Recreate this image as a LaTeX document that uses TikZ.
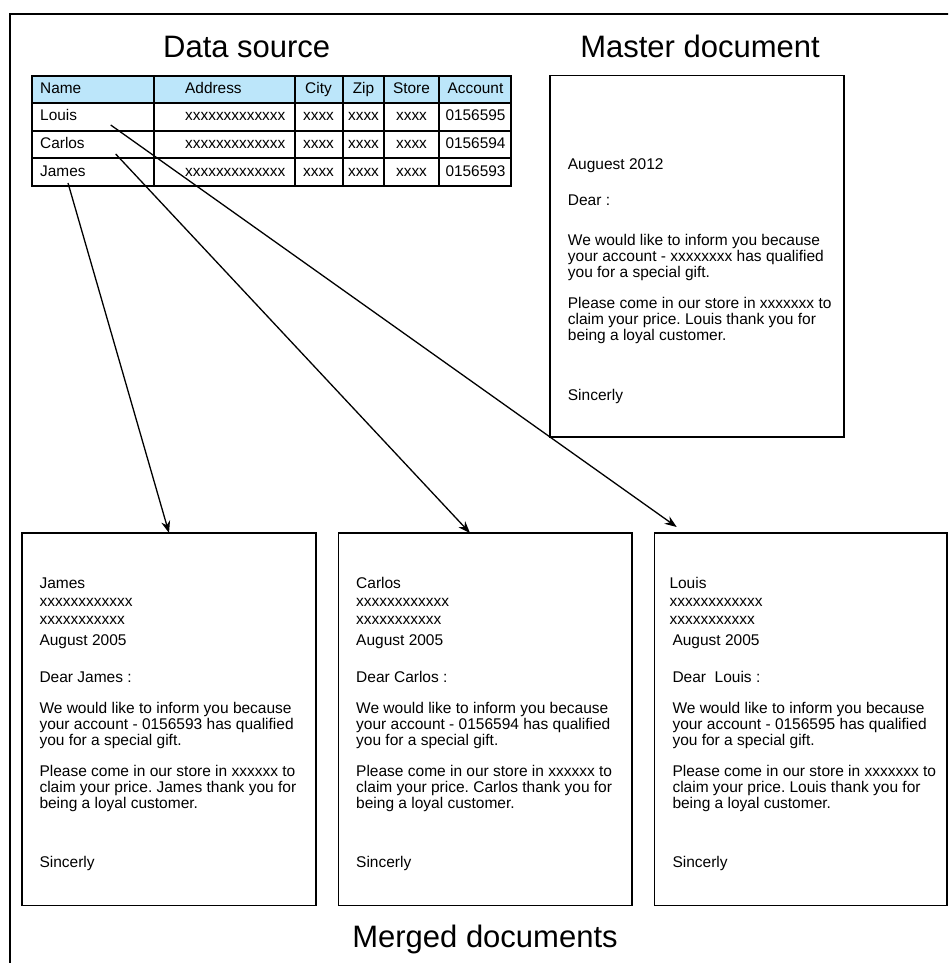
\documentclass[tikz,border=0pt]{standalone}
\usepackage{fontspec}
\setmainfont{Liberation Sans}
\usetikzlibrary{arrows.meta,calc}
\definecolor{hdr}{RGB}{188,230,250}
\frenchspacing
\tikzset{
  gridline/.style={draw=black, line width=1.5pt},
  docbox/.style={draw=black, line width=1.5pt, inner sep=0, outer sep=0, anchor=north west},
  title/.style={font=\fontsize{31}{31}\selectfont, inner sep=0, anchor=base},
  cell/.style={font=\fontsize{15.4}{16}\selectfont, inner sep=0},
  ltr/.style={font=\fontsize{15.5}{16}\selectfont\frenchspacing, inner sep=0, anchor=base west},
  link/.style={line width=1.3pt, -{Stealth[length=12pt,width=9pt]}}
}
\begin{document}
\begin{tikzpicture}[x=1pt,y=-1pt]
\useasboundingbox (0,0) rectangle (948,963);
\clip (0,0) rectangle (948,963);
\draw[line width=1.3pt] (10,14) rectangle (990,1000);

% titles
\node[title] (tds) at (246.7,58) {Data source};
\node[title] (tmd) at (700,58) {Master document};
\node[title] (tmg) at (485,947) {Merged documents};

% table
\fill[hdr] (32,76) rectangle (511,103);
\draw[gridline] (32,76) rectangle (511,186);
\foreach \yy in {103,131,158} {\draw[gridline] (32,\yy) -- (511,\yy);}
\foreach \xx in {154,295,343,384,439} {\draw[gridline] (\xx,76) -- (\xx,186);}
\foreach \r/\y/\a/\b/\c/\d/\e/\f in {
  h/93.3/Name/Address/City/Zip/Store/Account,
  l/121/Louis/xxxxxxxxxxxxx/xxxx/xxxx/xxxx/0156595,
  c/148.5/Carlos/xxxxxxxxxxxxx/xxxx/xxxx/xxxx/0156594,
  j/176/James/xxxxxxxxxxxxx/xxxx/xxxx/xxxx/0156593} {
  \node[cell,anchor=base west] (\r a) at (40,\y) {\a};
  \node[cell,anchor=base west] (\r b) at (185,\y) {\b};
  \node[cell,anchor=base] (\r c) at (318.5,\y) {\c};
  \node[cell,anchor=base] (\r d) at (363.5,\y) {\d};
  \node[cell,anchor=base] (\r e) at (411.5,\y) {\e};
  \node[cell,anchor=base] (\r f) at (475.5,\y) {\f};
}

% boxes
\node[docbox, minimum width=294pt, minimum height=361.3pt] (mbox) at (550,75.7) {};
\node[docbox, minimum width=294pt, minimum height=372.7pt] (jbox) at (22,533) {};
\node[docbox, minimum width=293.7pt, minimum height=372.7pt] (cbox) at (338.3,533) {};
\node[docbox, minimum width=292.7pt, minimum height=372.7pt] (lbox) at (654.3,533) {};

% master letter
\foreach \i/\y/\t in {
  1/169/Auguest 2012,
  2/205/Dear :,
  3/245.7/We would like to inform you because,
  4/261.7/your account - xxxxxxxx has qualified,
  5/277.5/you for a special gift.,
  6/308/Please come in our store in xxxxxxx to,
  7/324/claim your price. Louis thank you for,
  8/340/being a loyal customer.,
  9/400/Sincerly} {
  \node[ltr] (m\i) at (567.7,\y) {\t};
}

% James letter
\foreach \i/\y/\t in {
  1/588/James,
  2/606.7/xxxxxxxxxxxx,
  3/624/xxxxxxxxxxx,
  4/645.7/August 2005,
  5/682.7/Dear James :,
  6/713/We would like to inform you because,
  7/729.5/your account - 0156593 has qualified,
  8/745.7/you for a special gift.,
  9/776.7/Please come in our store in xxxxxx to,
  10/792.7/claim your price. James thank you for,
  11/808.5/being a loyal customer.,
  12/867.7/Sincerly} {
  \node[ltr] (j\i) at (39.3,\y) {\t};
}

% Carlos letter
\foreach \i/\y/\t in {
  1/588/Carlos,
  2/606.7/xxxxxxxxxxxx,
  3/624/xxxxxxxxxxx,
  4/645.7/August 2005,
  5/682.7/Dear Carlos :,
  6/713/We would like to inform you because,
  7/729.5/your account - 0156594 has qualified,
  8/745.7/you for a special gift.,
  9/776.7/Please come in our store in xxxxxx to,
  10/792.7/claim your price. Carlos thank you for,
  11/808.5/being a loyal customer.,
  12/867.7/Sincerly} {
  \node[ltr] (c\i) at (356,\y) {\t};
}

% Louis letter
\foreach \i/\x/\y/\t in {
  1/669.3/588/Louis,
  2/669.3/606.7/xxxxxxxxxxxx,
  3/669.3/624/xxxxxxxxxxx,
  4/672.3/645.7/August 2005,
  5/672.3/682.7/Dear\ \ Louis :,
  6/672.3/713/We would like to inform you because,
  7/672.3/729.5/your account - 0156595 has qualified,
  8/672.3/745.7/you for a special gift.,
  9/672.3/776.7/Please come in our store in xxxxxxx to,
  10/672.3/792.7/claim your price. Louis thank you for,
  11/672.3/808.5/being a loyal customer.,
  12/672.3/867.7/Sincerly} {
  \node[ltr] (l\i) at (\x,\y) {\t};
}

% connectors
\coordinate (sJ) at (68,183);
\coordinate (sC) at (115.7,154);
\coordinate (sL) at (110.7,125);
\draw[link] (sJ) -- ($(jbox.north west)+(147,0)$);
\draw[link] (sC) -- ($(cbox.north west)+(131.7,0)$);
\draw[link] (sL) -- ($(lbox.north west)+(22.4,-6)$);
\end{tikzpicture}
\end{document}
